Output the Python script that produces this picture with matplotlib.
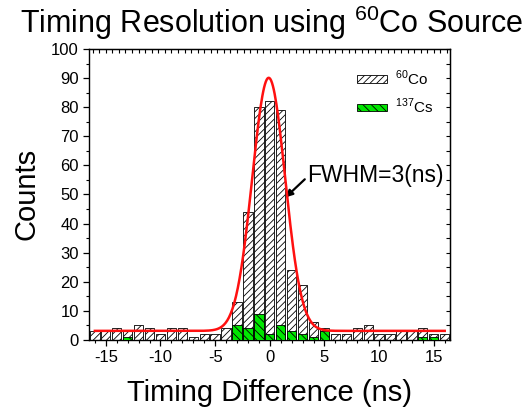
import numpy as np
import matplotlib
matplotlib.use("Agg")
import matplotlib.pyplot as plt
from matplotlib.ticker import MultipleLocator, FixedLocator
from matplotlib.patches import Patch

plt.rcParams['font.family'] = ['Liberation Sans', 'DejaVu Sans']
plt.rcParams['hatch.linewidth'] = 0.6
plt.rcParams['mathtext.fontset'] = 'custom'
plt.rcParams['mathtext.rm'] = 'Liberation Sans'
plt.rcParams['axes.unicode_minus'] = False

# Data
time_diff = list(range(-16, 17))
co60_counts = [3, 3, 4, 3, 5, 4, 2, 4, 4, 1, 2, 2, 4, 13, 44, 80, 82, 79, 24, 19,
               6, 4, 2, 2, 4, 5, 2, 2, 3, 3, 4, 2, 2]
cs137_counts = [0, 0, 0, 1, 0, 0, 0, 0, 0, 0, 0, 0, 0, 5, 4, 9, 2, 5, 3, 2,
                1, 3, 0, 0, 0, 0, 0, 0, 0, 0, 1, 1, 0]
# Gaussian fit parameters (baseline, amplitude, centre, sigma)
fit_y0 = 3.1
fit_amp = 87.0
fit_xc = -0.1
fit_sigma = 1.5

x_ticks = [-15, -10, -5, 0, 5, 10, 15]
y_ticks = list(range(0, 101, 10))

fig = plt.figure(figsize=(5.29, 4.15), dpi=100)
ax = fig.add_axes([0.169, 0.181, 0.851 - 0.169, 0.882 - 0.181])

ax.bar(time_diff, co60_counts, width=0.85, facecolor='white', edgecolor='black',
       hatch='/////', linewidth=0.6, zorder=2)
ax.bar(time_diff, cs137_counts, width=0.85, facecolor='#00E600', edgecolor='black',
       hatch='\\\\\\\\', linewidth=0.6, zorder=3)

xf = np.linspace(-16, 16, 400)
yf = fit_y0 + fit_amp * np.exp(-(xf - fit_xc) ** 2 / (2 * fit_sigma ** 2))
ax.plot(xf, yf, color='#FF1010', lw=1.8, zorder=4)

ax.set_xlim(-16.5, 16.5)
ax.set_ylim(0, 100)
ax.xaxis.set_major_locator(FixedLocator(x_ticks))
ax.yaxis.set_major_locator(FixedLocator(y_ticks))
ax.xaxis.set_minor_locator(MultipleLocator(1))
ax.yaxis.set_minor_locator(MultipleLocator(5))
ax.tick_params(axis='both', which='major', labelsize=12, direction='out',
               length=4, width=0.9)
ax.tick_params(axis='both', which='minor', direction='out', length=2, width=0.8)
for s in ax.spines.values():
    s.set_linewidth(1.0)

# top and right axes with inward ticks
axt = ax.secondary_xaxis('top')
axt.xaxis.set_major_locator(MultipleLocator(0.6))
axt.tick_params(direction='in', length=3, labeltop=False, width=0.8)
axr = ax.secondary_yaxis('right')
axr.yaxis.set_major_locator(MultipleLocator(5))
axr.tick_params(direction='in', length=3, labelright=False, width=0.8)

ax.set_xlabel('Timing Difference (ns)', fontsize=21, labelpad=10)
ax.set_ylabel('Counts', fontsize=21, labelpad=8)
fig.text(0.513, 0.945, r'Timing Resolution using $^{60}$Co Source', fontsize=22,
         ha='center', va='center')

ax.text(3.45, 56.5, 'FWHM=3(ns)', fontsize=16.5, va='center', ha='left')
ax.annotate('', xy=(1.45, 49.0), xytext=(3.2, 55.2),
            arrowprops=dict(arrowstyle='-|>', color='black', lw=1.6,
                            mutation_scale=10, shrinkA=0, shrinkB=0))

handles = [Patch(facecolor='white', edgecolor='black', hatch='/////', lw=0.6),
           Patch(facecolor='#00E600', edgecolor='black', hatch='\\\\\\\\', lw=0.6)]
ax.legend(handles, [r'$^{60}$Co', r'$^{137}$Cs'], loc='upper left',
          bbox_to_anchor=(0.72, 0.96), frameon=False, fontsize=11,
          handlelength=2.0, handleheight=0.4, handletextpad=0.5,
          labelspacing=0.6, borderpad=0)

fig.savefig('out.png', dpi=100)
